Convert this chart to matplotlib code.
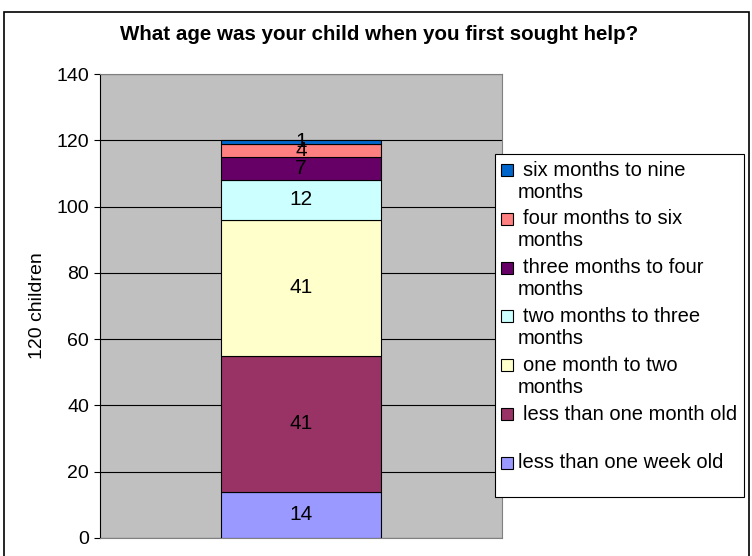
import matplotlib
matplotlib.use("Agg")
import matplotlib.pyplot as plt
from matplotlib.patches import Rectangle

plt.rcParams['font.family'] = ['Liberation Sans', 'DejaVu Sans']

categories = ["less than one week old", "less than one month old", "one month to two months",
              "two months to three months", "three months to four months",
              "four months to six months", "six months to nine months"]
legend_labels = ["less than one week old", "less than one month old", "one month to two\nmonths",
                 "two months to three\nmonths", "three months to four\nmonths",
                 "four months to six\nmonths", "six months to nine\nmonths"]
values = [14, 41, 41, 12, 7, 4, 1]
colors = ["#9999FF", "#993366", "#FFFFCC", "#CCFFFF", "#660066", "#FF8080", "#0066CC"]
yticks = [0, 20, 40, 60, 80, 100, 120, 140]

W, H = 752, 556
fig = plt.figure(figsize=(W / 100, H / 100), dpi=100)
fig.patch.set_facecolor("white")


def fx(px):
    return px / W


def fy(py):
    return 1 - py / H


fig.add_artist(Rectangle((fx(4), -0.01), fx(745), 1 - 12 / H + 0.01, transform=fig.transFigure,
                         fill=False, edgecolor="black", linewidth=1.2))

ax = fig.add_axes([fx(100), 18 / H, fx(402), 464 / H])
ax.set_facecolor("#C0C0C0")
ax.set_ylim(0, 140)
ax.set_xlim(-1, 1)
ax.set_yticks(yticks)
ax.tick_params(axis='y', labelsize=14, length=4, direction='out', pad=4)
ax.set_xticks([])
ax.yaxis.grid(True, color="black", linewidth=0.8)
ax.set_axisbelow(True)
for s in ['top', 'right', 'bottom']:
    ax.spines[s].set_color("#808080")
ax.spines['left'].set_color("black")

bottom = 0
for cat, v, c in zip(categories, values, colors):
    ax.bar(0, v, width=0.8, bottom=bottom, color=c, edgecolor="black", linewidth=0.8, zorder=3)
    ax.text(0, bottom + v / 2, str(v), ha='center', va='center', fontsize=15, zorder=4)
    bottom += v

ax.set_ylabel("120 children", fontsize=14, labelpad=7)
fig.text(fx(379), fy(34), "What age was your child when you first sought help?",
         ha='center', va='center', fontsize=14.8, fontweight='bold')

# Legend (drawn manually to mimic the spreadsheet layout)
fig.add_artist(Rectangle((fx(495), fy(497)), fx(249), 343 / H, transform=fig.transFigure,
                         facecolor="white", edgecolor="black", linewidth=0.8, zorder=5))
y0, pitch, line_h, sq = 170, 48.8, 22, 12
for i, (lab, c) in enumerate(zip(legend_labels[::-1], colors[::-1])):
    yc = y0 + i * pitch
    last = (i == len(legend_labels) - 1)
    fig.add_artist(Rectangle((fx(501), fy(yc + sq / 2)), fx(sq), sq / H, transform=fig.transFigure,
                             facecolor=c, edgecolor="black", linewidth=0.8, zorder=6))
    tx = 518 if last else 523
    for j, line in enumerate(lab.split("\n")):
        x = tx if j == 0 else 518
        fig.text(fx(x), fy(yc + j * line_h), line, ha='left', va='center',
                 fontsize=14.5, zorder=7)

fig.savefig("out.png", dpi=100)
